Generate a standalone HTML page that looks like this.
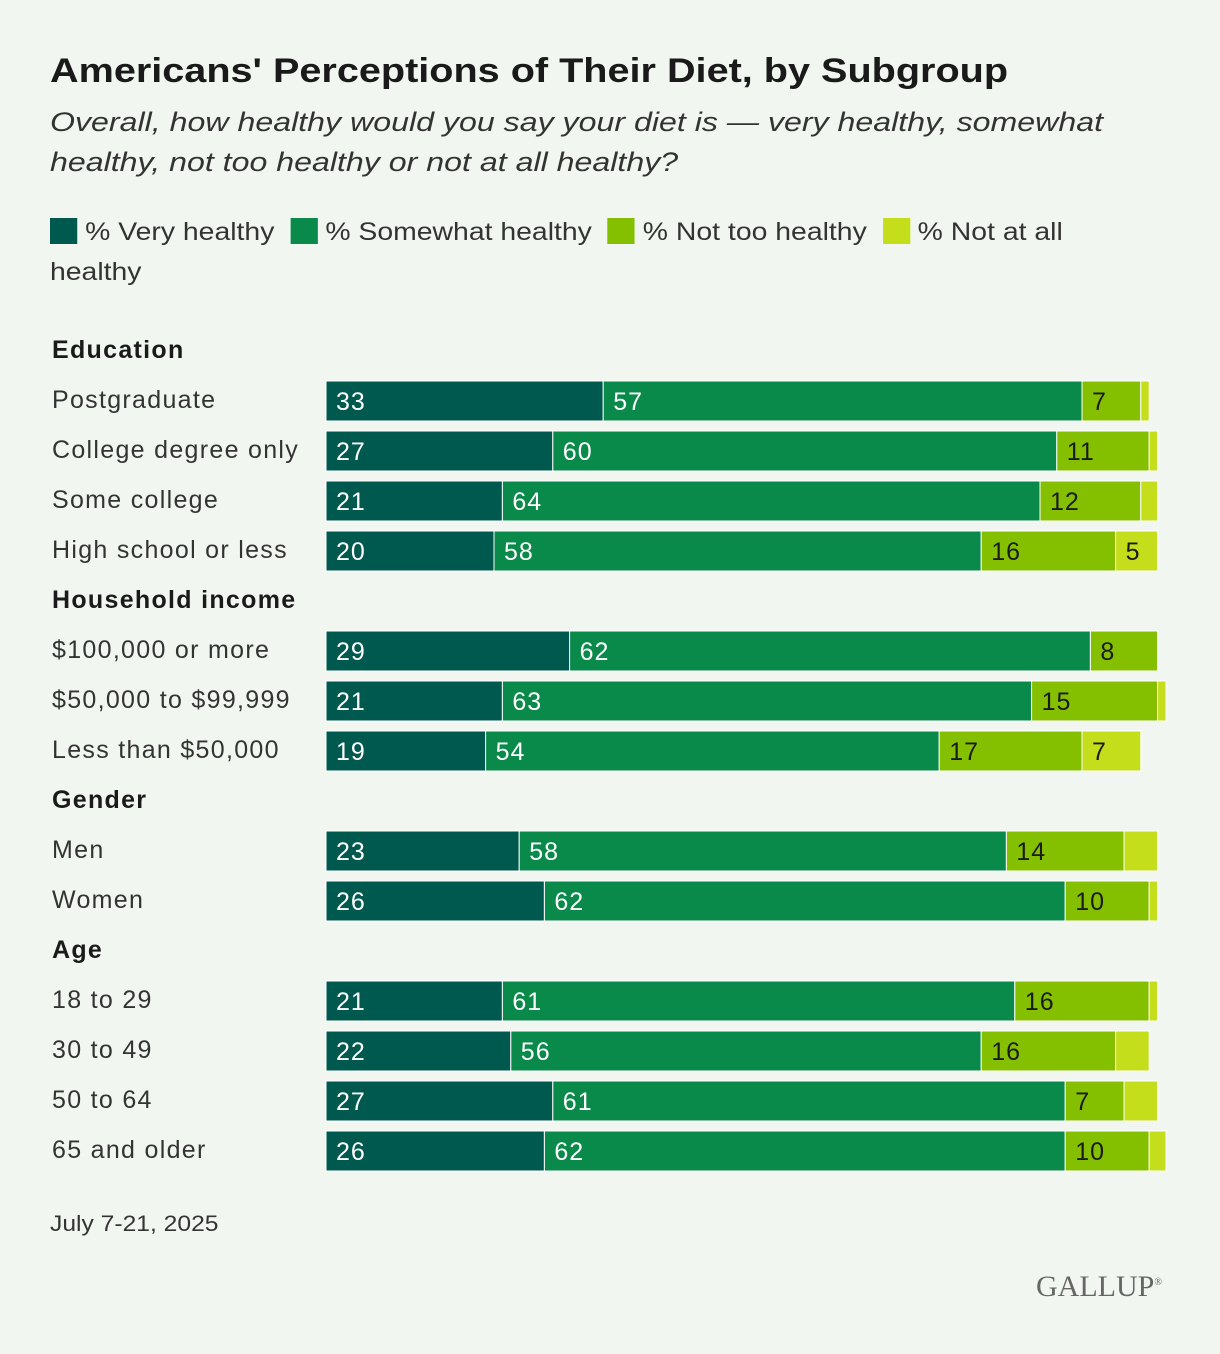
<!DOCTYPE html>
<html><head><meta charset="utf-8"><style>
body{margin:0;background:#f1f7f0;font-family:"Liberation Sans",sans-serif;color:#1a1a1a}
#wrap{position:relative;width:1220px;height:1354px;overflow:hidden}
.t{position:absolute;white-space:nowrap;transform-origin:0 0}
</style></head><body>
<div id="wrap">
<div class="t" style="left:50px;top:52px;font-size:34px;font-weight:bold;transform:scaleX(1.165)">Americans' Perceptions of Their Diet, by Subgroup</div>
<div class="t" style="left:50px;top:102px;font-size:27px;font-style:italic;line-height:40px;color:#333;transform:scaleX(1.19)">Overall, how healthy would you say your diet is — very healthy, somewhat<br>healthy, not too healthy or not at all healthy?</div>
<div class="t" style="left:50px;top:212px;font-size:25px;line-height:40px;color:#333;transform:scaleX(1.135)">
<span><span style="display:inline-block;width:24px;height:26px;background:#00594f;vertical-align:-4px"></span> % Very healthy</span>&nbsp;
<span><span style="display:inline-block;width:24px;height:26px;background:#0a8a4a;vertical-align:-4px"></span> % Somewhat healthy</span>&nbsp;
<span><span style="display:inline-block;width:24px;height:26px;background:#84c000;vertical-align:-4px"></span> % Not too healthy</span>&nbsp;
<span><span style="display:inline-block;width:24px;height:26px;background:#c4de1c;vertical-align:-4px"></span> % Not at all<br>healthy</span>
</div>
<svg id="svg" width="1220" height="1354" style="position:absolute;left:0;top:0"></svg>
<div class="t" style="left:50px;top:1211px;font-size:22px;color:#333;transform:scaleX(1.12)">July 7-21, 2025</div>
<div class="t" style="left:1036px;top:1270px;font-size:30px;font-family:'Liberation Serif',serif;color:#666">GALLUP<sup style="font-size:10px">®</sup></div>
</div>
<script>
const rows=["Education","Postgraduate","College degree only","Some college","High school or less","Household income","$100,000 or more","$50,000 to $99,999","Less than $50,000","Gender","Men","Women","Age","18 to 29","30 to 49","50 to 64","65 and older"];
const veryHealthy=[null,33,27,21,20,null,29,21,19,null,23,26,null,21,22,27,26];
const somewhatHealthy=[null,57,60,64,58,null,62,63,54,null,58,62,null,61,56,61,62];
const notTooHealthy=[null,7,11,12,16,null,8,15,17,null,14,10,null,16,16,7,10];
const notAtAll=[null,1,1,2,5,null,0,1,7,null,4,1,null,1,4,4,2];
const colors=["#00594f","#0a8a4a","#84c000","#c4de1c"];
const textColors=["#fff","#fff","#1a1a1a","#1a1a1a"];
const svg=document.getElementById('svg');const NS="http://www.w3.org/2000/svg";
const x0=326,scale=8.4;const xs=v=>v*scale;const yc=i=>350+i*50;
rows.forEach((r,i)=>{
 const hdr=veryHealthy[i]===null;
 const t=document.createElementNS(NS,'text');
 t.setAttribute('x',52);t.setAttribute('y',yc(i)+8);t.setAttribute('font-size','25');
 t.setAttribute('letter-spacing','1.3');
 t.setAttribute('font-family','Liberation Sans, sans-serif');t.setAttribute('fill',hdr?'#1a1a1a':'#333');
 if(hdr)t.setAttribute('font-weight','bold');t.textContent=r;
 
 
 svg.appendChild(t);
 if(hdr)return;
 let x=x0;
 [veryHealthy[i],somewhatHealthy[i],notTooHealthy[i],notAtAll[i]].forEach((v,k)=>{
  if(!v)return;const w=xs(v);
  const rc=document.createElementNS(NS,'rect');
  rc.setAttribute('x',x);rc.setAttribute('y',yc(i)-19);rc.setAttribute('width',w);rc.setAttribute('height',40);
  rc.setAttribute('fill',colors[k]);rc.setAttribute('stroke','#fff');rc.setAttribute('stroke-width','1');
  
  
  svg.appendChild(rc);
  if(v>=5){const tt=document.createElementNS(NS,'text');
   tt.setAttribute('x',x+10);tt.setAttribute('y',yc(i)+10);tt.setAttribute('font-size','25');
   tt.setAttribute('letter-spacing','1');
   tt.setAttribute('font-family','Liberation Sans, sans-serif');tt.setAttribute('fill',textColors[k]);tt.textContent=v;
   
   
   svg.appendChild(tt);}
  x+=w;
 });
});
</script>
</body></html>
